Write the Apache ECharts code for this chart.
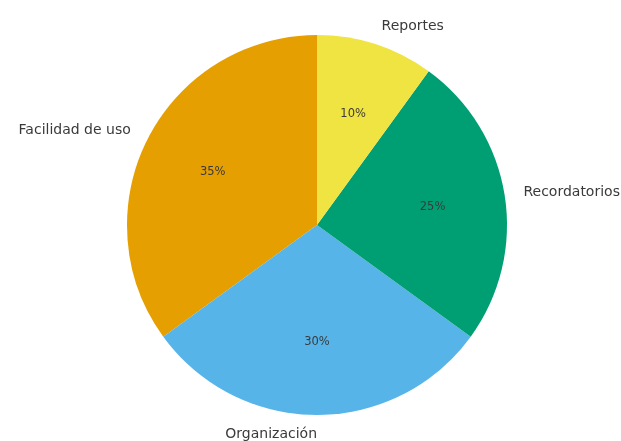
<!DOCTYPE html>
<html>
<head>
<meta charset="utf-8">
<script src="https://cdn.jsdelivr.net/npm/echarts@6/dist/echarts.min.js"></script>
<style>
  html, body { margin: 0; padding: 0; background: #fff; }
  #chart { width: 621px; height: 441px; }
</style>
</head>
<body>
<div id="chart"></div>
<script>
// Categories and shares (percent), drawn counter-clockwise from 12 o'clock
const categories = ['Facilidad de uso', 'Organización', 'Recordatorios', 'Reportes'];
const shares = [35, 30, 25, 10];
const colors = ['#E69F00', '#56B4E9', '#009E73', '#F0E442'];

const R = 190;
const center = [317, 225];

const pieData = categories.map((name, i) => ({
  name: name,
  value: shares[i],
  itemStyle: { color: colors[i] }
}));

const chart = echarts.init(document.getElementById('chart'), null, { renderer: 'canvas' });
chart.setOption({
  backgroundColor: '#ffffff',
  animation: false,
  series: [
    {
      // the pie itself with category names just outside the rim
      type: 'pie',
      center: center,
      radius: [0, R],
      startAngle: 90,
      clockwise: false,
      avoidLabelOverlap: false,
      data: pieData,
      label: {
        show: true,
        position: 'outside',
        formatter: '{b}',
        fontFamily: 'DejaVu Sans',
        fontSize: 14,
        color: '#3a3a3a',
        alignTo: 'none',
        distanceToLabelLine: 0
      },
      labelLine: { show: false, length: 19, length2: 0 },
      // the bottom label hangs to the left of the vertical through the centre
      labelLayout: (p) => (p.dataIndex === 1 ? { align: 'right' } : {}),
      emphasis: { disabled: true }
    },
    {
      // transparent ring whose inside labels sit at 0.6 of the radius
      type: 'pie',
      center: center,
      radius: [R * 0.2, R],
      startAngle: 90,
      clockwise: false,
      silent: true,
      avoidLabelOverlap: false,
      data: categories.map((name, i) => ({
        name: name,
        value: shares[i],
        itemStyle: { color: 'rgba(0,0,0,0)' }
      })),
      label: {
        show: true,
        position: 'inside',
        formatter: (p) => p.value + '%',
        fontFamily: 'DejaVu Sans',
        fontSize: 11.5,
        color: '#3a3a3a'
      },
      labelLine: { show: false },
      emphasis: { disabled: true }
    }
  ]
});
</script>
</body>
</html>
